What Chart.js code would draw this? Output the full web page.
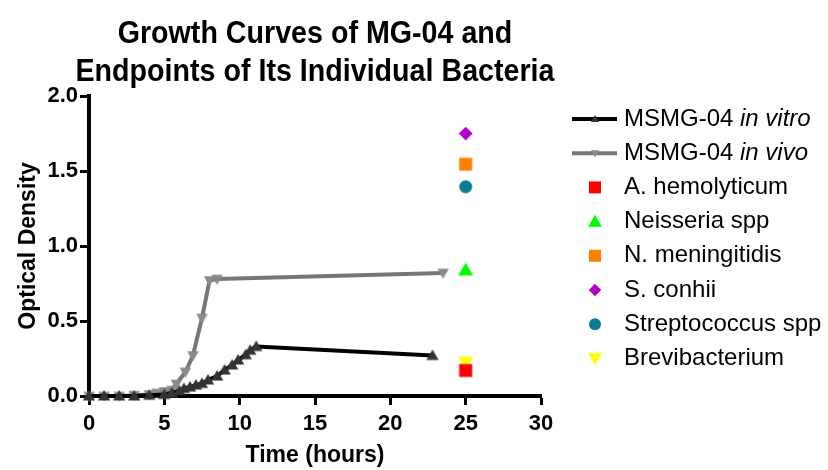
<!DOCTYPE html>
<html>
<head>
<meta charset="utf-8">
<script src="https://cdn.jsdelivr.net/npm/chart.js@4.4.1/dist/chart.umd.min.js"></script>
<style>
html,body{margin:0;padding:0;background:#fff;}
#wrap{position:relative;width:828px;height:470px;}
</style>
</head>
<body>
<div id="wrap"><canvas id="c" width="828" height="470"></canvas></div>
<script>
// ---- data ----
const titleLines = ["Growth Curves of MG-04 and", "Endpoints of Its Individual Bacteria"];
const xTitle = "Time (hours)";
const yTitle = "Optical Density";

const vitroTime = [0,1,2,3,4,5,5.5,6,6.3,6.7,7.1,7.5,7.9,8.5,9.0,9.5,9.9,10.4,10.7,11.1,22.8];
const vitroOD   = [0,0,0,0,0.005,0.01,0.02,0.035,0.05,0.06,0.073,0.084,0.107,0.133,0.173,0.207,0.24,0.275,0.305,0.33,0.27];

const vivoTime = [0,1,2,3,4,4.5,5,5.5,5.8,6.4,6.9,7.5,8.0,8.5,23.5];
const vivoOD   = [0,0,0,0.005,0.01,0.02,0.03,0.04,0.08,0.16,0.27,0.52,0.77,0.78,0.82];

const endpointNames = ["A. hemolyticum","Neisseria spp","N. meningitidis","S. conhii","Streptococcus spp","Brevibacterium"];
const endpointTime  = [25,25,25,25,25,25];
const endpointOD    = [0.17,0.84,1.545,1.75,1.395,0.225];
const endpointColors = ["#ff0000","#00ff00","#ff8000","#b400c8","#0a7d94","#ffff00"];
const endpointStyles = ["rect","triangle","rect","rectRot","circle","triangleDown"];

const lineNames = [["MSMG-04 ","in vitro"],["MSMG-04 ","in vivo"]];

// ---- helpers ----
function pts(xs, ys){ return xs.map((x,i)=>({x:x,y:ys[i]})); }

function drawMarker(ctx, style, x, y, r, color){
  ctx.save();
  ctx.fillStyle = color;
  ctx.beginPath();
  if(style==='rect'){
    ctx.rect(x-r, y-r, 2*r, 2*r);
  } else if(style==='circle'){
    ctx.arc(x, y, r, 0, Math.PI*2);
  } else if(style==='rectRot'){
    ctx.moveTo(x, y-r*1.25); ctx.lineTo(x+r*1.25, y); ctx.lineTo(x, y+r*1.25); ctx.lineTo(x-r*1.25, y);
  } else if(style==='triangle'){
    ctx.moveTo(x, y-r*1.15); ctx.lineTo(x+r*1.15, y+r*0.85); ctx.lineTo(x-r*1.15, y+r*0.85);
  } else if(style==='triangleDown'){
    ctx.moveTo(x, y+r*1.15); ctx.lineTo(x+r*1.15, y-r*0.85); ctx.lineTo(x-r*1.15, y-r*0.85);
  }
  ctx.closePath();
  ctx.fill();
  ctx.restore();
}

function markerCanvas(style, r, color){
  const s = Math.ceil(r*3);
  const cv = document.createElement('canvas');
  cv.width = s; cv.height = s;
  drawMarker(cv.getContext('2d'), style, s/2, s/2, r, color);
  return cv;
}

const decoPlugin = {
  id:'deco',
  afterDraw(chart){
    const ctx = chart.ctx;
    const ca = chart.chartArea;
    // title
    ctx.save();
    ctx.fillStyle = '#000';
    ctx.textAlign = 'center';
    ctx.textBaseline = 'middle';
    ctx.font = 'bold 32px "Liberation Sans", Arial, sans-serif';
    const cx = (ca.left + ca.right)/2;
    const ys = [34, 72];
    titleLines.forEach((t,i)=>{
      ctx.save();
      ctx.translate(cx, ys[i]);
      ctx.scale(0.895, 1);
      ctx.fillText(t, 0, 0);
      ctx.restore();
    });
    ctx.restore();

    // legend
    const lx0 = 572, lx1 = 617, mx = 595, tx = 624;
    const ly0 = 119, step = 34.2;
    const fam = '"Liberation Sans", Arial, sans-serif';
    ctx.save();
    ctx.textBaseline = 'middle';
    ctx.textAlign = 'left';
    ctx.fillStyle = '#000';
    const lineColors = ['#000000','#777777'];
    const markColors = ['#333333','#8a8a8a'];
    const markStyles = ['triangle','triangleDown'];
    for(let i=0;i<2;i++){
      const y = ly0 + i*step;
      ctx.strokeStyle = lineColors[i];
      ctx.lineWidth = 4;
      ctx.beginPath(); ctx.moveTo(lx0, y); ctx.lineTo(lx1, y); ctx.stroke();
      drawMarker(ctx, markStyles[i], mx, y, 3.5, markColors[i]);
      ctx.fillStyle = '#000';
      ctx.font = '24px ' + fam;
      ctx.fillText(lineNames[i][0], tx, y);
      const w = ctx.measureText(lineNames[i][0]).width;
      ctx.font = 'italic 24px ' + fam;
      ctx.fillText(lineNames[i][1], tx + w, y);
    }
    ctx.font = '24px ' + fam;
    endpointNames.forEach((n,i)=>{
      const y = ly0 + (i+2)*step;
      const st = endpointStyles[i];
      const r = st==='rectRot' ? 5 : 6;
      drawMarker(ctx, st, mx, y, r, endpointColors[i]);
      ctx.fillStyle = '#000';
      ctx.fillText(n, tx, y);
    });
    ctx.restore();
  }
};

const datasets = [
  {
    label:'MSMG-04 in vivo', type:'line', data: pts(vivoTime, vivoOD),
    borderColor:'#777777', borderWidth:4, tension:0, fill:false,
    pointStyle: markerCanvas('triangleDown', 5, '#8a8a8a'), pointRadius:5,
    clip:false, order:2
  },
  {
    label:'MSMG-04 in vitro', type:'line', data: pts(vitroTime, vitroOD),
    borderColor:'#000000', borderWidth:4, tension:0, fill:false,
    pointStyle: markerCanvas('triangle', 5.3, '#333333'), pointRadius:5,
    clip:false, order:1
  }
];
endpointNames.forEach((n,i)=>{
  const st = endpointStyles[i];
  const r = st==='rectRot' ? 5.5 : 6.5;
  datasets.push({
    label:n, type:'scatter', data:[{x:endpointTime[i], y:endpointOD[i]}],
    pointStyle: markerCanvas(st, r, endpointColors[i]), pointRadius:6,
    backgroundColor: endpointColors[i], borderWidth:0, clip:false, order:0
  });
});

const fam = '"Liberation Sans", Arial, sans-serif';
new Chart(document.getElementById('c'), {
  type:'line',
  data:{ datasets },
  options:{
    responsive:false,
    animation:false,
    devicePixelRatio:1,
    layout:{ padding:{ top:96, right:287, left:0, bottom:0 } },
    plugins:{ legend:{display:false}, tooltip:{enabled:false}, title:{display:false} },
    scales:{
      x:{
        type:'linear', min:0, max:30,
        afterFit(s){ s.height = 74; },
        ticks:{ stepSize:5, color:'#000', padding:6,
          font:{ family:fam, size:22, weight:'bold' } },
        grid:{ drawOnChartArea:false, drawTicks:true, tickLength:9, tickWidth:3, tickColor:'#000' },
        border:{ display:true, width:4, color:'#000' },
        title:{ display:true, text:xTitle, color:'#000', padding:{top:0,bottom:1},
          font:{ family:fam, size:23, weight:'bold' } }
      },
      y:{
        type:'linear', min:0, max:2,
        afterFit(s){ s.width = 89; },
        ticks:{ stepSize:0.5, color:'#000', padding:2,
          callback:(v)=>Number(v).toFixed(1),
          font:{ family:fam, size:22, weight:'bold' } },
        grid:{ drawOnChartArea:false, drawTicks:true, tickLength:9, tickWidth:3, tickColor:'#000' },
        border:{ display:true, width:4, color:'#000' },
        title:{ display:true, text:yTitle, color:'#000', padding:{top:15,bottom:0},
          font:{ family:fam, size:23, weight:'bold' } }
      }
    }
  },
  plugins:[decoPlugin]
});
</script>
</body>
</html>
